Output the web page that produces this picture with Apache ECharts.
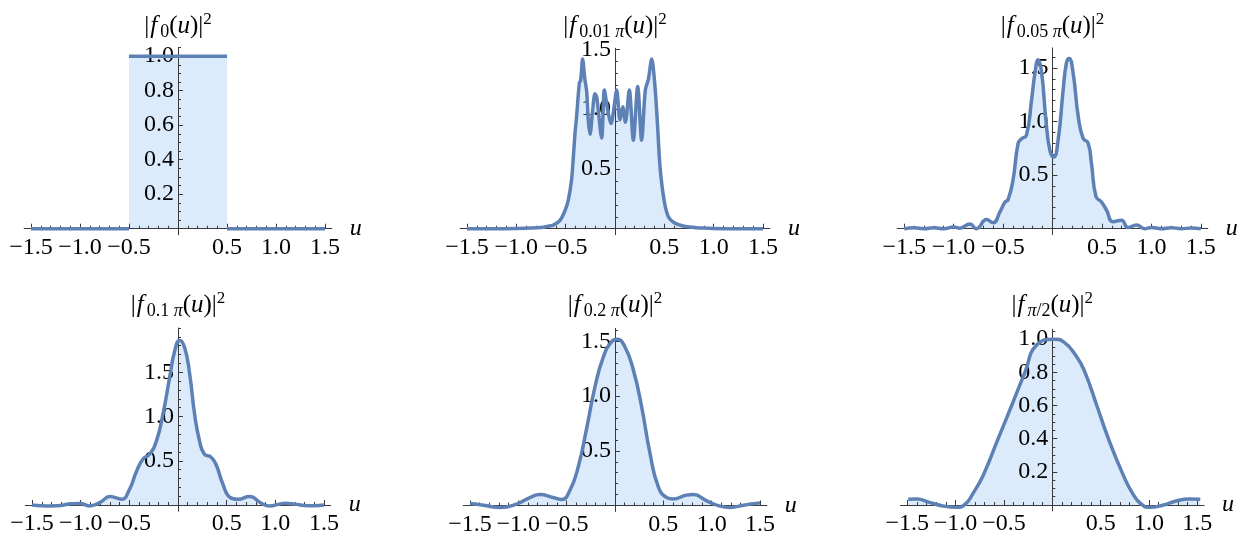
<!DOCTYPE html>
<html><head><meta charset="utf-8">
<script src="https://cdn.jsdelivr.net/npm/echarts@6/dist/echarts.min.js"></script>
<style>html,body{margin:0;padding:0;background:#fff}#c{width:1238px;height:538px}</style>
</head><body><div id="c"></div>
<script>
// ---------- data ----------
const rectU = [-1.5, -0.5, -0.5, 0.5, 0.5, 1.5];
const rectV = [0, 0, 1, 1, 0, 0];

const u2 = [-1.5,-1.2,-1.0,-0.85,-0.75,-0.68,-0.625,-0.557,-0.507,-0.473,-0.44,-0.422,-0.405,-0.389,-0.361,-0.348,-0.328,-0.307,-0.287,-0.27,-0.253,-0.228,-0.203,-0.185,-0.135,-0.108,-0.075,-0.04,-0.012,0.017,0.05,0.078,0.105,0.145,0.186,0.23,0.27,0.307,0.338,0.372,0.405,0.43,0.456,0.497,0.54,0.6,0.7,0.8,0.9,1.0,1.2,1.5];
const v2 = [0,0,0.002,0.005,0.01,0.02,0.03,0.07,0.15,0.24,0.41,0.6,0.8,0.94,1.22,1.24,1.42,1.26,1.15,0.9,0.79,0.98,1.13,1.1,0.76,1.16,1.0,0.88,1.0,1.16,0.91,1.02,0.89,1.16,0.74,1.19,0.74,1.16,1.25,1.42,1.19,0.88,0.52,0.24,0.10,0.05,0.02,0.01,0.005,0.002,0,0];

const u3 = [-1.5,-1.4,-1.3,-1.2,-1.1,-1.0,-0.936,-0.835,-0.77,-0.667,-0.6,-0.53,-0.48,-0.45,-0.40,-0.347,-0.313,-0.263,-0.212,-0.178,-0.145,-0.111,-0.067,-0.027,0.013,0.057,0.108,0.141,0.168,0.209,0.26,0.31,0.36,0.394,0.44,0.495,0.545,0.613,0.697,0.764,0.85,0.93,1.0,1.1,1.2,1.3,1.4,1.5];
const v3 = [0,0.008,0,0.01,0,0.015,0.005,0.045,0.0,0.085,0.056,0.16,0.25,0.27,0.45,0.80,0.84,0.875,1.2,1.45,1.58,1.47,1.02,0.735,0.67,0.83,1.3,1.55,1.59,1.45,1.05,0.845,0.80,0.61,0.3,0.25,0.175,0.065,0.08,0.012,0.035,0.0,0.012,0.0,0.01,0.0,0.006,0.0];

const u4 = [-1.5,-1.4,-1.3,-1.2,-1.1,-1.01,-0.91,-0.80,-0.70,-0.58,-0.497,-0.43,-0.36,-0.29,-0.22,-0.154,-0.086,-0.034,0.017,0.068,0.12,0.17,0.22,0.27,0.34,0.39,0.46,0.53,0.616,0.736,0.856,0.94,1.04,1.1,1.2,1.3,1.4,1.5];
const v4 = [0,-0.008,-0.01,-0.005,0.015,0.018,-0.01,0.03,0.095,0.065,0.18,0.37,0.52,0.576,0.73,1.03,1.44,1.74,1.86,1.78,1.48,1.03,0.73,0.576,0.54,0.46,0.24,0.09,0.065,0.095,0.02,-0.01,0.01,0.02,0.01,-0.005,-0.008,0];

const u5 = [-1.5,-1.36,-1.19,-1.02,-0.88,-0.776,-0.64,-0.55,-0.466,-0.38,-0.29,-0.207,-0.12,-0.034,0.024,0.103,0.19,0.276,0.362,0.448,0.534,0.6,0.74,0.81,0.948,1.086,1.19,1.33,1.5];
const v5 = [0.018,0.003,-0.018,0.012,0.073,0.10,0.073,0.055,0.14,0.354,0.72,1.085,1.36,1.50,1.52,1.45,1.24,0.90,0.476,0.17,0.073,0.06,0.095,0.10,0.043,-0.006,-0.018,0.003,0.024];

const u6 = [-1.49,-1.4,-1.27,-1.13,-0.99,-0.9,-0.82,-0.714,-0.56,-0.42,-0.283,-0.162,0.02,0.114,0.252,0.338,0.46,0.58,0.734,0.83,0.92,1.01,1.15,1.29,1.42,1.53];
const v6 = [0.034,0.036,0.016,-0.006,-0.014,0.005,0.07,0.18,0.4,0.6,0.8,0.965,1.0,0.985,0.894,0.8,0.6,0.4,0.18,0.07,0.005,-0.014,0.0,0.026,0.036,0.034];

// tick labels
const xTicks = [-1.5, -1.0, -0.5, 0.5, 1.0, 1.5];
const yTicksA = [0.2, 0.4, 0.6, 0.8, 1.0];
const yTicksB = [0.5, 1.0, 1.5];

// titles (rich text)
const titles = [
  '{b||}{f|f}{s|0}{b|(}{i|u}{b|)|}{p|2}',
  '{b||}{f|f}{s|0.01 }{si|π}{b|(}{i|u}{b|)|}{p|2}',
  '{b||}{f|f}{s|0.05 }{si|π}{b|(}{i|u}{b|)|}{p|2}',
  '{b||}{f|f}{s|0.1 }{si|π}{b|(}{i|u}{b|)|}{p|2}',
  '{b||}{f|f}{s|0.2 }{si|π}{b|(}{i|u}{b|)|}{p|2}',
  '{b||}{f|f}{si|π}{s|/2}{b|(}{i|u}{b|)|}{p|2}'
];

// ---------- layout / style ----------
const FONT = 'Liberation Serif';
const LINE = '#5E81B5', FILL = '#DCEBFC', AXIS = '#3a3a3a';
const X_MIN = -1.57, X_MAX = 1.57;
const layout = [
  {x0:178,   sx:98,   y0:228.7, sy:172.5, ymin:-0.035, ymax:1.05, ty:11,  minor:0.05},
  {x0:615,   sx:98.7, y0:228.7, sy:119.5, ymin:-0.05,  ymax:1.51, ty:11,  minor:0.1},
  {x0:1052.5,sx:98.9, y0:228.7, sy:107,   ymin:-0.055, ymax:1.69, ty:11,  minor:0.1},
  {x0:178,   sx:97.3, y0:505,   sy:88.5,  ymin:-0.07,  ymax:2.0,  ty:290, minor:0.1},
  {x0:615,   sx:96.7, y0:505.5, sy:109.3, ymin:-0.055, ymax:1.62, ty:290, minor:0.1},
  {x0:1052.3,sx:96.7, y0:505,   sy:165.8, ymin:-0.036, ymax:1.06, ty:290, minor:0.05}
];
const panelData = [[rectU, rectV], [u2, v2], [u3, v3], [u4, v4], [u5, v5], [u6, v6]];
const panelYTicks = [yTicksA, yTicksB, yTicksB, yTicksB, yTicksB, yTicksA];
const smoothness = [false, 0.3, 0.5, 0.5, 0.5, 0.5];

function steps(a, b, step) {
  const out = [];
  for (let k = Math.ceil(a / step - 1e-9); k * step <= b + 1e-9; k++) out.push(+(k * step).toFixed(4));
  return out;
}
const xMinor = steps(-1.5, 1.5, 0.1);

const rich = {
  b:  {fontFamily: FONT, fontSize: 25, color: '#000', lineHeight: 30},
  f:  {fontFamily: FONT, fontSize: 25, color: '#000', lineHeight: 30, fontStyle: 'italic', padding: [0, 3, 0, 1]},
  i:  {fontFamily: FONT, fontSize: 25, color: '#000', lineHeight: 30, fontStyle: 'italic'},
  s:  {fontFamily: FONT, fontSize: 18, color: '#000', lineHeight: 23, verticalAlign: 'bottom'},
  si: {fontFamily: FONT, fontSize: 18, color: '#000', lineHeight: 23, verticalAlign: 'bottom', fontStyle: 'italic'},
  p:  {fontFamily: FONT, fontSize: 17, color: '#000', lineHeight: 18, verticalAlign: 'top'}
};

const grids = [], xAxes = [], yAxes = [], series = [], graphics = [];
const fmtX = v => (v < 0 ? '\u2212' : '') + Math.abs(v).toFixed(1);

layout.forEach((L, i) => {
  const box = {
    left: L.x0 + X_MIN * L.sx,
    width: (X_MAX - X_MIN) * L.sx,
    top: L.y0 - L.ymax * L.sy,
    height: (L.ymax - L.ymin) * L.sy,
    outerBoundsMode: 'none', containLabel: false
  };
  grids.push(Object.assign({}, box), Object.assign({}, box));
  const gMain = 2 * i, gMinor = 2 * i + 1;
  const yt = panelYTicks[i];
  const yMinor = steps(0, L.ymax, L.minor).filter(v => v > 0);
  const xOff = -(0 - L.ymin) * L.sy;   // move x axis up to y = 0
  const yOff = -(0 - X_MIN) * L.sx;    // move y axis right to x = 0

  xAxes.push({
    gridIndex: gMain, type: 'value', min: X_MIN, max: X_MAX, position: 'bottom', offset: xOff, z: 2,
    axisLine: {show: true, onZero: false, lineStyle: {color: AXIS, width: 1}},
    axisTick: {show: true, inside: true, length: 5, customValues: xTicks, lineStyle: {color: AXIS, width: 1}},
    axisLabel: {show: true, customValues: xTicks, formatter: fmtX, fontFamily: FONT, fontSize: 24, color: '#000', margin: 7},
    splitLine: {show: false},
    name: 'u', nameLocation: 'end', nameGap: 18,
    nameTextStyle: {fontFamily: FONT, fontStyle: 'italic', fontSize: 24, color: '#000'}
  });
  xAxes.push({
    gridIndex: gMinor, type: 'value', min: X_MIN, max: X_MAX, position: 'bottom', offset: xOff, z: 2,
    axisLine: {show: false, onZero: false},
    axisTick: {show: true, inside: true, length: 3, customValues: xMinor, lineStyle: {color: AXIS, width: 1}},
    axisLabel: {show: false}, splitLine: {show: false}
  });
  yAxes.push({
    gridIndex: gMain, type: 'value', min: L.ymin, max: L.ymax, position: 'left', offset: yOff, z: 2,
    axisLine: {show: true, onZero: false, lineStyle: {color: AXIS, width: 1}},
    axisTick: {show: true, inside: true, length: 5, customValues: yt, lineStyle: {color: AXIS, width: 1}},
    axisLabel: {show: true, customValues: yt, formatter: v => v.toFixed(1), fontFamily: FONT, fontSize: 24, color: '#000', margin: 4},
    splitLine: {show: false}
  });
  yAxes.push({
    gridIndex: gMinor, type: 'value', min: L.ymin, max: L.ymax, position: 'left', offset: yOff, z: 2,
    axisLine: {show: false, onZero: false},
    axisTick: {show: true, inside: true, length: 3, customValues: yMinor, lineStyle: {color: AXIS, width: 1}},
    axisLabel: {show: false}, splitLine: {show: false}
  });

  const [us, vs] = panelData[i];
  const pts = us.map((x, k) => [x, vs[k]]);
  // filled region under the curve
  series.push({
    type: 'line', xAxisIndex: gMain, yAxisIndex: gMain, data: pts, showSymbol: false,
    smooth: smoothness[i],
    lineStyle: {width: 0, opacity: 0}, areaStyle: {color: FILL, opacity: 1}, z: 1, silent: true
  });
  // the curve itself (jumps of the step function are left open)
  const linePts = [];
  pts.forEach((p, k) => {
    if (k > 0 && pts[k - 1][0] === p[0]) linePts.push([p[0], '-']);
    linePts.push(p);
  });
  series.push({
    type: 'line', xAxisIndex: gMain, yAxisIndex: gMain, data: linePts, showSymbol: false,
    smooth: smoothness[i], connectNulls: false,
    lineStyle: {width: 3.5, color: LINE}, z: 3, silent: true
  });

  graphics.push({
    type: 'text', x: L.x0, y: L.ty, z: 10,
    style: {text: titles[i], rich: rich, align: 'center', verticalAlign: 'top', fill: '#000'}
  });
});

const chart = echarts.init(document.getElementById('c'), null, {renderer: 'canvas'});
chart.setOption({
  animation: false,
  backgroundColor: '#fff',
  grid: grids, xAxis: xAxes, yAxis: yAxes, series: series, graphic: graphics
});
</script></body></html>
